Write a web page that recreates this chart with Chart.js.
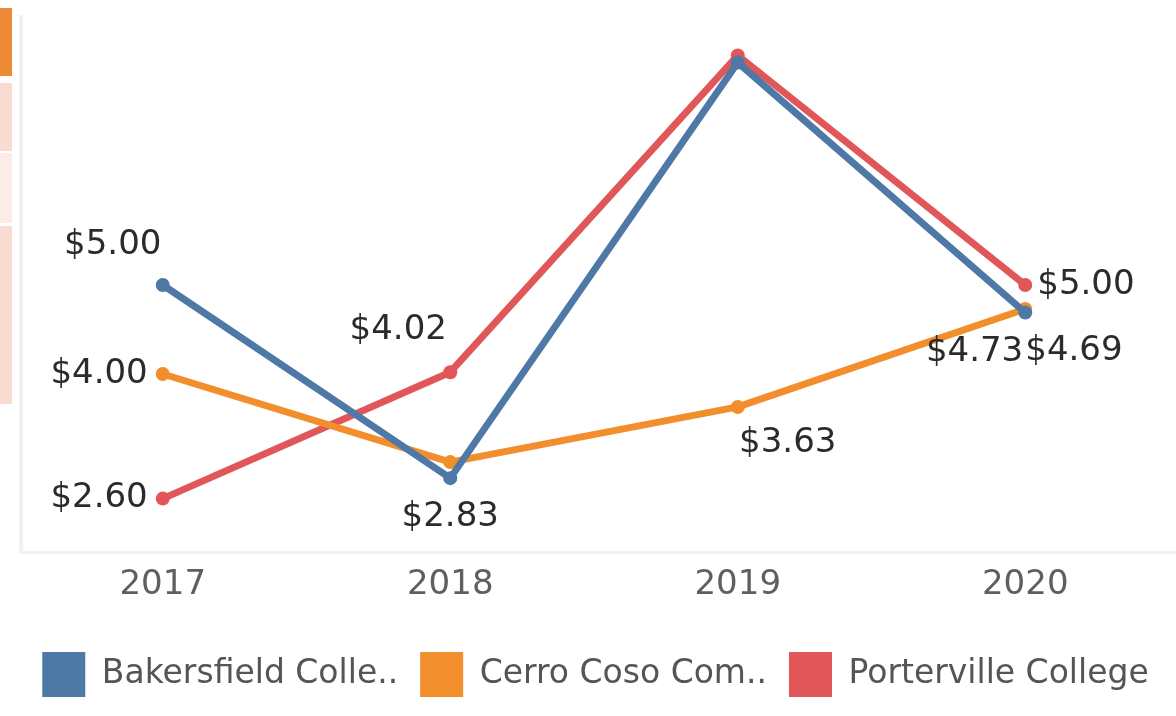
<!DOCTYPE html>
<html lang="en">
<head>
    <meta charset="UTF-8">
    <title>Cost by College</title>
    <script src="https://cdn.jsdelivr.net/npm/chart.js"></script>
    <style>
        html, body {
            margin: 0;
            padding: 0;
            background: #fff;
        }
        #wrap {
            position: relative;
            width: 1176px;
            height: 716px;
        }
        .strip {
            position: absolute;
            left: 0;
            width: 12px;
        }
    </style>
</head>
<body>
<div id="wrap">
    <!-- edge of the neighbouring view -->
    <div class="strip" style="top:8px;height:68px;background:#ee8a36"></div>
    <div class="strip" style="top:83px;height:68px;background:#f8dcd2"></div>
    <div class="strip" style="top:153px;height:70px;background:#fbece8"></div>
    <div class="strip" style="top:226px;height:178px;background:#f8dcd2"></div>
    <canvas id="chart" width="1176" height="716"></canvas>
</div>

<script>
    const years = ['2017', '2018', '2019', '2020'];
    const bakersfield = [5.00, 2.83, 7.50, 4.69];
    const cerroCoso = [4.00, 3.01, 3.63, 4.73];
    const porterville = [2.60, 4.02, 7.58, 5.00];
    const seriesNames = ['Bakersfield Colle..', 'Cerro Coso Com..', 'Porterville College'];

    // which points get a value label, and where it sits relative to the point
    const labelSpots = [
        [{ align: 'center', dx: -50, dy: -40 }, { align: 'center', dx: 0, dy: 39 }, null, { align: 'left', dx: 0, dy: 39 }],
        [{ align: 'right', dx: -15, dy: 0 }, null, { align: 'center', dx: 50, dy: 36 }, { align: 'right', dx: -2, dy: 43 }],
        [{ align: 'right', dx: -15, dy: 0 }, { align: 'center', dx: -52, dy: -42 }, null, { align: 'left', dx: 12, dy: 0 }]
    ];

    const FONT = "'DejaVu Sans', sans-serif";

    const framePlugin = {
        id: 'frame',
        beforeDraw(chart) {
            const { ctx, chartArea: a } = chart;
            ctx.save();
            ctx.fillStyle = '#f1f1f1';
            ctx.fillRect(a.left, a.top - 3, 4, a.bottom - a.top + 3);
            ctx.fillRect(a.left, a.bottom - 1, chart.width - a.left, 3);
            ctx.restore();
        }
    };

    const valueLabels = {
        id: 'valueLabels',
        afterDatasetsDraw(chart) {
            const ctx = chart.ctx;
            ctx.save();
            ctx.font = '34px ' + FONT;
            ctx.fillStyle = '#2b2b2b';
            ctx.textBaseline = 'middle';
            chart.data.datasets.forEach((ds, i) => {
                const meta = chart.getDatasetMeta(i);
                meta.data.forEach((pt, j) => {
                    const spot = labelSpots[i][j];
                    if (!spot) return;
                    ctx.textAlign = spot.align;
                    ctx.fillText('$' + ds.data[j].toFixed(2), pt.x + spot.dx, pt.y + spot.dy);
                });
            });
            ctx.restore();
        }
    };

    const colors = ['#4e79a7', '#f28e2b', '#e15759'];
    const values = [bakersfield, cerroCoso, porterville];

    new Chart(document.getElementById('chart'), {
        type: 'line',
        data: {
            labels: years,
            datasets: values.map((v, i) => ({
                label: seriesNames[i],
                data: v,
                borderColor: colors[i],
                backgroundColor: colors[i],
                borderWidth: 7,
                borderJoinStyle: 'round',
                borderCapStyle: 'round',
                pointRadius: 7,
                pointBorderWidth: 0,
                pointBackgroundColor: colors[i],
                tension: 0
            }))
        },
        options: {
            responsive: false,
            animation: false,
            layout: { padding: { top: 18, left: 19, right: 4, bottom: 9 } },
            plugins: {
                legend: {
                    position: 'bottom',
                    labels: {
                        boxWidth: 43,
                        boxHeight: 45,
                        padding: 22,
                        color: '#555',
                        font: { family: FONT, size: 33 },
                        generateLabels(chart) {
                            return chart.data.datasets.map((ds, i) => ({
                                text: ds.label,
                                fillStyle: ds.borderColor,
                                strokeStyle: ds.borderColor,
                                lineWidth: 0,
                                fontColor: '#555',
                                hidden: false,
                                datasetIndex: i
                            }));
                        }
                    }
                },
                tooltip: { enabled: false }
            },
            scales: {
                x: {
                    offset: true,
                    grid: { display: false, drawTicks: false },
                    border: { display: false },
                    ticks: { padding: 13, color: '#5f5f5f', font: { family: FONT, size: 34 } },
                    afterFit(axis) { axis.height = 78; }
                },
                y: {
                    display: false,
                    min: 2,
                    max: 8
                }
            }
        },
        plugins: [framePlugin, valueLabels]
    });
</script>
</body>
</html>
